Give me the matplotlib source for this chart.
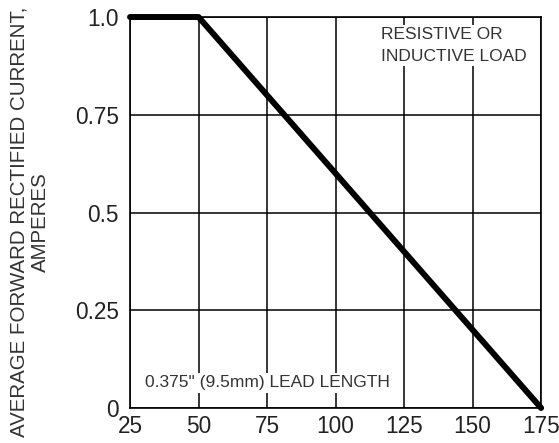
import matplotlib
matplotlib.use("Agg")
import matplotlib.pyplot as plt

temps = [25, 50, 175]
current = [1.0, 1.0, 0.0]
xticks = [25, 50, 75, 100, 125, 150, 175]
yticks = [0, 0.25, 0.5, 0.75, 1.0]
ytick_labels = ["0", "0.25", "0.5", "0.75", "1.0"]

plt.rcParams['font.family'] = ['Liberation Sans', 'DejaVu Sans']
fig = plt.figure(figsize=(5.59, 4.43), dpi=100)
ax = fig.add_axes([0.2326, 0.079, 0.7354, 0.8826])
ax.set_xlim(25, 175)
ax.set_ylim(0, 1.0)
ax.set_xticks(xticks)
ax.set_xticklabels([str(t) for t in xticks])
ax.set_yticks(yticks)
ax.set_yticklabels(ytick_labels)
ax.grid(True, color='black', linewidth=1.1)
ax.set_axisbelow(True)
for s in ax.spines.values():
    s.set_linewidth(1.2)
ax.tick_params(axis='both', length=0, labelsize=16.3, colors='#222222')
ax.tick_params(axis='y', pad=8)
ax.tick_params(axis='x', pad=5)
ax.plot(temps, current, color='black', linewidth=4.3, solid_capstyle='round', zorder=5, clip_on=False)
fig.text(30 / 559, 1 - 222 / 443, "AVERAGE FORWARD RECTIFIED CURRENT,\nAMPERES",
         rotation=90, fontsize=14.8, color='#333333', ha='center', va='center',
         linespacing=1.15, multialignment='center')
ax.text(30.5, 0.064, "0.375\" (9.5mm) LEAD LENGTH", fontsize=12.5, color='#333333',
        ha='left', va='center', zorder=3,
        bbox=dict(facecolor='white', edgecolor='none', pad=1.5))
ax.text(143.0, 0.975, "RESISTIVE OR\nINDUCTIVE LOAD", fontsize=12.5, color='#333333',
        ha='center', va='top', zorder=3, linespacing=1.6, multialignment='left',
        bbox=dict(facecolor='white', edgecolor='none', pad=1.5))
fig.savefig("out.png", dpi=100)
